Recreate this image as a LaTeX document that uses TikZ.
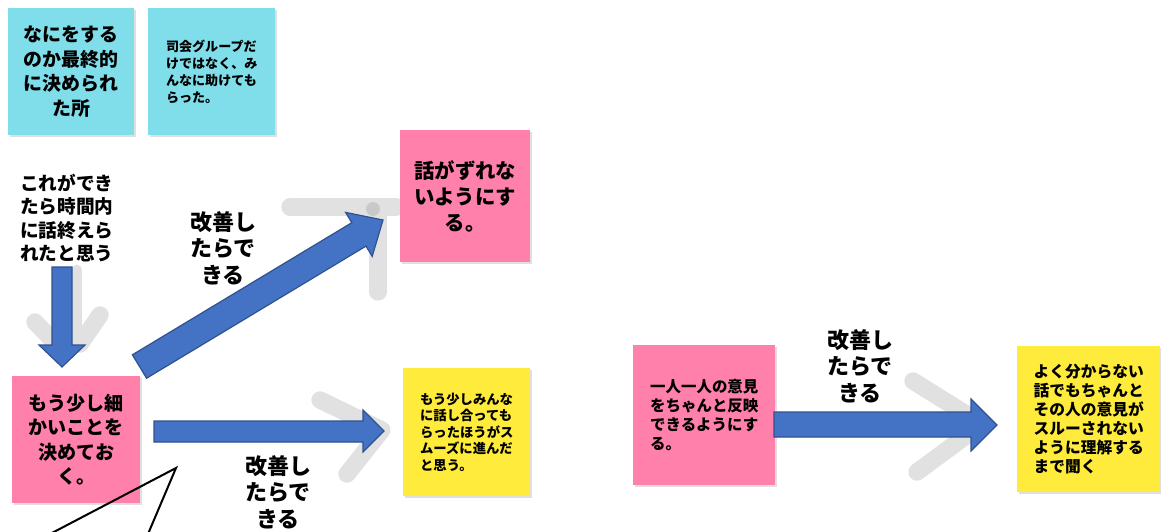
\documentclass[tikz,border=0pt]{standalone}
\usepackage{fontspec}
\setmainfont{Noto Sans CJK JP}
\usetikzlibrary{shadows}
\definecolor{stickyblue}{RGB}{128,222,234}
\definecolor{stickypink}{RGB}{255,128,171}
\definecolor{stickyyellow}{RGB}{255,235,59}
\definecolor{arrowblue}{RGB}{68,114,196}
\definecolor{arrowedge}{RGB}{47,82,143}
\definecolor{sketchgray}{RGB}{225,225,225}
\tikzset{
  sticky/.style={inner sep=0pt, anchor=north west, text=black,
    drop shadow={shadow xshift=1pt, shadow yshift=-1.5pt, opacity=.25}},
  pxsize/.style 2 args={minimum width=#1*0.75pt, minimum height=#2*0.75pt},
  bluebox/.style={sticky, fill=stickyblue},
  pinkbox/.style={sticky, fill=stickypink},
  yellowbox/.style={sticky, fill=stickyyellow},
  blockarrow/.style={fill=arrowblue, draw=arrowedge, line width=0.9pt, line join=miter},
  sketchline/.style={draw=sketchgray, line width=13pt, line cap=round, line join=round},
  label/.style={align=center, inner sep=0pt, font=\fontsize{16.5}{19.9}\selectfont\bfseries},
  callout/.style={draw=black, line width=1.5pt},
}
\begin{document}
\begin{tikzpicture}[x=0.75pt,y=-0.75pt]
\useasboundingbox[fill=white] (0,0) rectangle (1161,532);

% sketch strokes (light gray, behind)
\draw[sketchline] (290,207) -- (396,207);
\draw[sketchline] (378,207) -- (378,292);
\fill[gray!55, opacity=.6] (373,209) circle (7);
\draw[sketchline] (320,400) -- (382,430) -- (347,474);
\draw[sketchline] (913,381) -- (982,424) -- (917,472);
\draw[sketchline, line width=8pt] (77,270) -- (77,342);
\draw[sketchline] (35,322) -- (60,348);
\draw[sketchline] (100,315) -- (80,344);

% sticky notes
\node[bluebox, pxsize={126}{127}, align=center,
  font=\fontsize{14.2}{18.4}\selectfont\bfseries] (b1) at (8,8)
  {なにをする\\のか最終的\\に決められ\\た所};
\node[bluebox, pxsize={127}{127}, align=left,
  font=\fontsize{9.8}{12.75}\selectfont\bfseries] (b2) at (148,8)
  {司会グループだ\\けではなく、み\\んなに助けても\\らった。};
\node[align=center, inner sep=0pt,
  font=\fontsize{14}{17.6}\selectfont\bfseries] (t1) at (67,218)
  {これができ\\たら時間内\\に話終えら\\れたと思う};
\node[pinkbox, pxsize={128}{127}, align=center,
  font=\fontsize{14.3}{18.4}\selectfont\bfseries] (p1) at (12,376)
  {もう少し細\\かいことを\\決めてお\\く。};
\node[pinkbox, pxsize={130}{132}, align=center,
  font=\fontsize{15.3}{19.5}\selectfont\bfseries] (p2) at (400,130)
  {話がずれな\\いようにす\\る。};
\node[yellowbox, pxsize={127}{128}, align=left,
  font=\fontsize{10}{12.4}\selectfont\bfseries] (y1) at (403,368)
  {もう少しみんな\\に話し合っても\\らったほうがス\\ムーズに進んだ\\と思う。};
\node[pinkbox, pxsize={142}{140}, align=left,
  font=\fontsize{11.6}{14.3}\selectfont\bfseries] (p3) at (633,345)
  {一人一人の意見\\をちゃんと反映\\できるようにす\\る。};
\node[yellowbox, pxsize={143}{146}, align=left,
  font=\fontsize{11.8}{14.3}\selectfont\bfseries] (y2) at (1017,346)
  {よく分からない\\話でもちゃんと\\その人の意見が\\スルーされない\\ように理解する\\まで聞く};

% block arrows
\coordinate (downTail) at (62,267);
\coordinate (downTip) at (62,367);
\fill[blockarrow] (52,267) -- (72,267) -- (72,345) -- (85,345) -- (downTip)
  -- (39,345) -- (52,345) -- cycle;

\coordinate (diagTip) at (383,220);
\fill[blockarrow] (132.4,354.8) -- (351.8,222.7) -- (345.6,212.4) -- (diagTip)
  -- (372.2,256.4) -- (366.0,246.1) -- (146.6,378.2) -- cycle;

\coordinate (horTip) at (384,431);
\fill[blockarrow] (154,421) -- (363,421) -- (363,410) -- (horTip)
  -- (363,452) -- (363,442) -- (154,442) -- cycle;

\coordinate (rightTip) at (997,425);
\fill[blockarrow] (774,412) -- (971,412) -- (971,399) -- (rightTip)
  -- (971,451) -- (971,437) -- (774,437) -- cycle;

% labels
\node[label] (l1) at (223,248) {改善し\\たらで\\きる};
\node[label] (l2) at (278,492) {改善し\\たらで\\きる};
\node[label] (l3) at (860,366) {改善し\\たらで\\きる};

% callout pointer
\coordinate (cTip) at (176,468);
\coordinate (cLeft) at (50,534);
\coordinate (cRight) at (148,534);
\draw[callout] (cLeft) -- (cTip) -- (cRight);
\end{tikzpicture}
\end{document}
